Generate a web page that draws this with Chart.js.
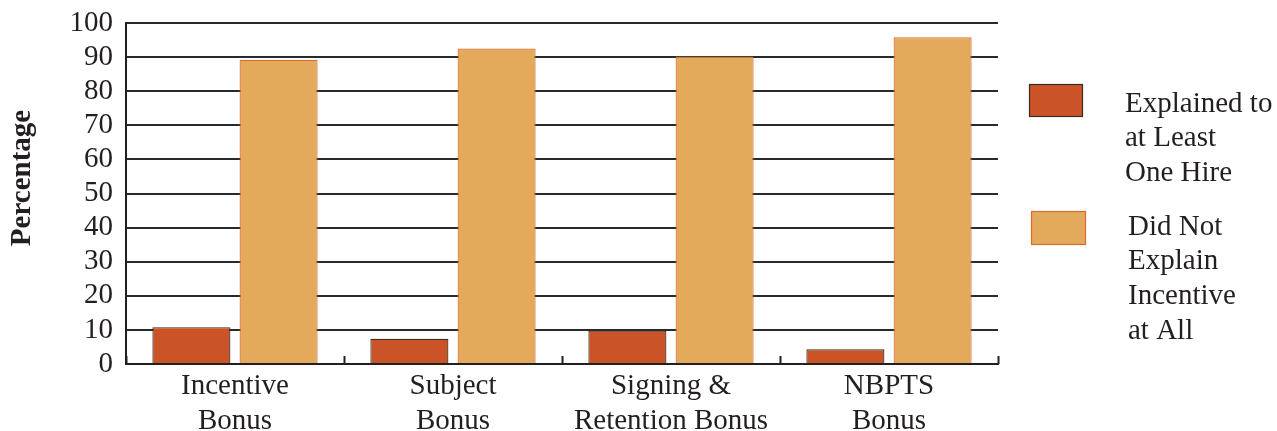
<!DOCTYPE html>
<html>
<head>
<meta charset="utf-8">
<script src="https://cdn.jsdelivr.net/npm/chart.js@4/dist/chart.umd.min.js"></script>
<style>
  html, body { margin: 0; padding: 0; background: #fff; }
  #wrap { width: 1277px; height: 431px; position: relative; }
</style>
</head>
<body>
<div id="wrap"><canvas id="c" width="1277" height="431"></canvas></div>
<script>
// Incentive types (two-line category labels)
const categories = [
  ['Incentive', 'Bonus'],
  ['Subject', 'Bonus'],
  ['Signing &', 'Retention Bonus'],
  ['NBPTS', 'Bonus']
];
// Percent of respondents per incentive type
const explainedToOne = [10.8, 7.4, 9.8, 4.3];
const didNotExplain  = [89.2, 92.5, 90.2, 95.8];
// Legend text, one entry per line
const seriesLabels = [
  ['Explained to', 'at Least', 'One Hire'],
  ['Did Not', 'Explain', 'Incentive', 'at All']
];
const yTicks = [0, 10, 20, 30, 40, 50, 60, 70, 80, 90, 100];
const yTitle = 'Percentage';

const FONT = '"Liberation Serif", "Times New Roman", serif';
const INK = '#231f20';
const SIZE = 29;

// Short upward marks on the category axis between groups
const categoryTicks = {
  id: 'categoryTicks',
  afterDatasetsDraw(chart) {
    const x = chart.scales.x, area = chart.chartArea, ctx = chart.ctx;
    ctx.save();
    ctx.strokeStyle = INK;
    ctx.lineWidth = 2;
    const half = (x.getPixelForValue(1) - x.getPixelForValue(0)) / 2;
    for (let i = 0; i <= categories.length; i++) {
      const px = Math.round(x.getPixelForValue(i) - half) + 0.5;
      ctx.beginPath();
      ctx.moveTo(px, area.bottom);
      ctx.lineTo(px, area.bottom - 8);
      ctx.stroke();
    }
    ctx.restore();
  }
};

// Rotated value-axis title
const axisTitle = {
  id: 'axisTitle',
  afterDraw(chart) {
    const ctx = chart.ctx;
    ctx.save();
    ctx.translate(23, 178);
    ctx.rotate(-Math.PI / 2);
    ctx.fillStyle = INK;
    ctx.font = 'bold ' + SIZE + 'px ' + FONT;
    ctx.textAlign = 'center';
    ctx.textBaseline = 'middle';
    ctx.fillText(yTitle, 0, 0);
    ctx.restore();
  }
};

// Legend on the right, multi-line labels next to colour boxes
const sideLegend = {
  id: 'sideLegend',
  afterDraw(chart) {
    const ctx = chart.ctx;
    const boxes = [
      { x: 1029, y: 84, w: 54, h: 33, tx: 1125, ty: 104 },
      { x: 1031, y: 211, w: 55, h: 34, tx: 1128, ty: 227 }
    ];
    ctx.save();
    chart.data.datasets.forEach((ds, i) => {
      const b = boxes[i];
      ctx.fillStyle = ds.backgroundColor;
      ctx.fillRect(b.x, b.y, b.w, b.h);
      ctx.strokeStyle = ds.borderColor;
      ctx.lineWidth = 1.2;
      ctx.strokeRect(b.x + 0.5, b.y + 0.5, b.w - 1, b.h - 1);
      ctx.fillStyle = INK;
      ctx.font = SIZE + 'px ' + FONT;
      ctx.textAlign = 'left';
      ctx.textBaseline = 'middle';
      ds.label.forEach((line, j) => ctx.fillText(line, b.tx, b.ty + j * 34.7));
    });
    ctx.restore();
  }
};

new Chart(document.getElementById('c'), {
  type: 'bar',
  data: {
    labels: categories,
    datasets: [
      {
        label: seriesLabels[0],
        data: explainedToOne,
        backgroundColor: '#CA5427',
        borderColor: '#3b2a22',
        borderWidth: 1.2,
        borderSkipped: 'bottom'
      },
      {
        label: seriesLabels[1],
        data: didNotExplain,
        backgroundColor: '#E3AA5B',
        borderColor: '#DD6A30',
        borderWidth: 1.2,
        borderSkipped: 'bottom'
      }
    ]
  },
  options: {
    responsive: false,
    animation: false,
    devicePixelRatio: 1,
    layout: { padding: { top: 23, right: 279, left: 0, bottom: 0 } },
    datasets: { bar: { categoryPercentage: 0.8, barPercentage: 0.895 } },
    plugins: {
      legend: { display: false },
      tooltip: { enabled: false }
    },
    scales: {
      x: {
        grid: { display: false, drawTicks: false },
        border: { display: true, color: INK, width: 2 },
        ticks: {
          color: INK,
          padding: 5,
          maxRotation: 0,
          autoSkip: false,
          font: { family: FONT, size: SIZE, lineHeight: 1.2 }
        },
        afterFit(s) { s.height = 67; }
      },
      y: {
        min: 0,
        max: 100,
        afterBuildTicks(s) { s.ticks = yTicks.map(v => ({ value: v })); },
        grid: { color: '#2a2a2a', lineWidth: 2, drawTicks: false },
        border: { display: true, color: INK, width: 2 },
        ticks: {
          color: INK,
          padding: 13,
          autoSkip: false,
          font: { family: FONT, size: SIZE, lineHeight: 1 }
        },
        afterFit(s) { s.width = 126; s.paddingTop = 0; s.paddingBottom = 0; }
      }
    }
  },
  plugins: [categoryTicks, axisTitle, sideLegend]
});
</script>
</body>
</html>
